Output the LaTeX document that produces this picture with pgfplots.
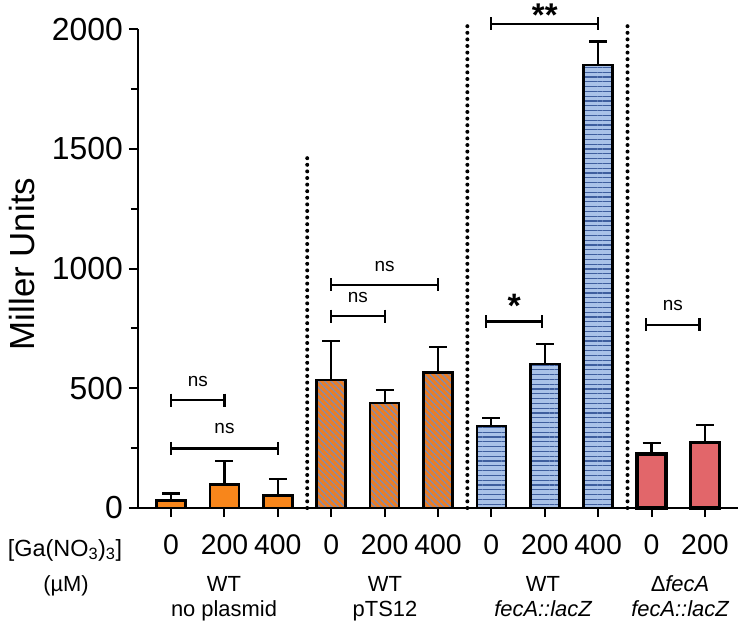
\documentclass[border=0pt]{standalone}
\usepackage{pgfplots}
\pgfplotsset{compat=1.18}
\usepackage{fontspec}
\setmainfont{Liberation Sans}
\usetikzlibrary{patterns.meta}

\definecolor{orangeA}{HTML}{F8861B}
\definecolor{orangeB}{HTML}{EC7D24}
\definecolor{slateB}{HTML}{7F8DB3}
\definecolor{skyC}{HTML}{A9C2E8}
\definecolor{navyC}{HTML}{3E5E9E}
\definecolor{salmonD}{HTML}{E2666A}

% error-bar look shared by all groups
\pgfplotsset{
  errplus/.style={
    error bars/.cd, y dir=plus, y explicit,
    error bar style={line width=2.2bp, black, solid},
    error mark options={rotate=90, line width=2.2bp, mark size=9bp, black, solid}},
  barbase/.style={ybar, bar width=29bp, bar shift=0pt, draw=black, line width=2.6bp},
  bracket/.style={black, line width=2.2bp, mark=|, mark size=6.5bp,
    mark options={line width=2.2bp, solid}, forget plot},
  separator/.style={black, line width=4bp, dash pattern=on 0bp off 6.6bp,
    line cap=round, forget plot},
}

\begin{document}
\begin{tikzpicture}
\path[use as bounding box] (-138bp,-121bp) rectangle (615bp,508bp);
\begin{axis}[
  at={(0,0)}, anchor=south west,
  scale only axis, width=600bp, height=478.7bp,
  xmin=-0.62, xmax=10.62, ymin=0, ymax=2000,
  axis lines=left, axis line style={-, line width=2.2bp, black},
  tick align=outside, major tick length=9bp, minor tick length=7bp,
  tick style={line width=2bp, black},
  xtick={0,...,10},
  xticklabels={0,200,400,0,200,400,0,200,400,0,200},
  ytick={0,500,1000,1500,2000}, minor ytick={250,750,1250,1750},
  yticklabel style={inner sep=1bp, xshift=-5bp, font=\fontsize{32}{34}\selectfont},
  xticklabel style={inner sep=1bp, yshift=-16bp, font=\fontsize{28.5}{32}\selectfont},
  /pgf/number format/assume math mode=true,
  /pgf/number format/1000 sep={},
  clip=false,
]
% WT, no plasmid
\addplot[barbase, fill=orangeA, errplus]
  coordinates {(0,32) +- (0,29) (1,99) +- (0,99) (2,51) +- (0,69)};
% WT, pTS12
\addplot[barbase, preaction={fill=orangeB},
  pattern={Lines[angle=-45, distance=4.4bp, line width=1.2bp]}, pattern color=slateB, errplus]
  coordinates {(3,535) +- (0,164) (4,438) +- (0,56) (5,567) +- (0,105)};
% WT, fecA::lacZ
\addplot[barbase, preaction={fill=skyC},
  pattern={Lines[angle=0, distance=4.8bp, line width=1.1bp]}, pattern color=navyC, errplus]
  coordinates {(6,343) +- (0,33) (7,602) +- (0,83) (8,1851) +- (0,98)};
% delta fecA, fecA::lacZ
\addplot[barbase, line width=3.3bp, fill=salmonD, errplus]
  coordinates {(9,226) +- (0,44) (10,273) +- (0,73)};

% group separators
\addplot[separator] coordinates {(2.55,0) (2.55,1462)};
\addplot[separator] coordinates {(5.55,0) (5.55,2030)};
\addplot[separator] coordinates {(8.55,0) (8.55,2018)};

% significance brackets
\addplot[bracket] coordinates {(0,451) (1,451)};
\addplot[bracket] coordinates {(0,249) (2,249)};
\addplot[bracket] coordinates {(3,802) (4,802)};
\addplot[bracket] coordinates {(3,932) (5,932)};
\addplot[bracket] coordinates {(5.9,779) (6.95,779)};
\addplot[bracket] coordinates {(6,2023) (8,2023)};
\addplot[bracket] coordinates {(8.9,765) (9.9,765)};

\begin{scope}[every node/.style={font=\fontsize{19}{22}\selectfont}]
\node at (axis cs:0.5,528) {ns};
\node at (axis cs:1,334) {ns};
\node at (axis cs:3.5,878) {ns};
\node at (axis cs:4,1011) {ns};
\node at (axis cs:9.4,848) {ns};
\end{scope}
\node[font=\fontsize{34}{36}\selectfont\bfseries] at (axis cs:6.43,845) {*};
\node[font=\fontsize{33}{36}\selectfont\bfseries, inner sep=0pt] at (axis cs:7,2060) {**};
\end{axis}

% axis title and category captions
\node[rotate=90, font=\fontsize{35}{38}\selectfont] at (-116bp,244bp) {Miller Units};
\node[font=\fontsize{23.5}{26}\selectfont, anchor=base] at (-73bp,-48bp) {[Ga(NO\textsubscript{3})\textsubscript{3}]};
\begin{scope}[every node/.style={font=\fontsize{22}{26}\selectfont, anchor=base}]
\node at (-72bp,-83bp) {(µM)};
\node at (86bp,-83bp) {WT};
\node at (86bp,-108bp) {no plasmid};
\node at (247bp,-83bp) {WT};
\node at (247bp,-108bp) {pTS12};
\node at (405bp,-83bp) {WT};
\node at (405bp,-108bp) {\itshape fecA::lacZ};
\node at (542bp,-83bp) {Δ\itshape fecA};
\node at (542bp,-108bp) {\itshape fecA::lacZ};
\end{scope}
\end{tikzpicture}
\end{document}
